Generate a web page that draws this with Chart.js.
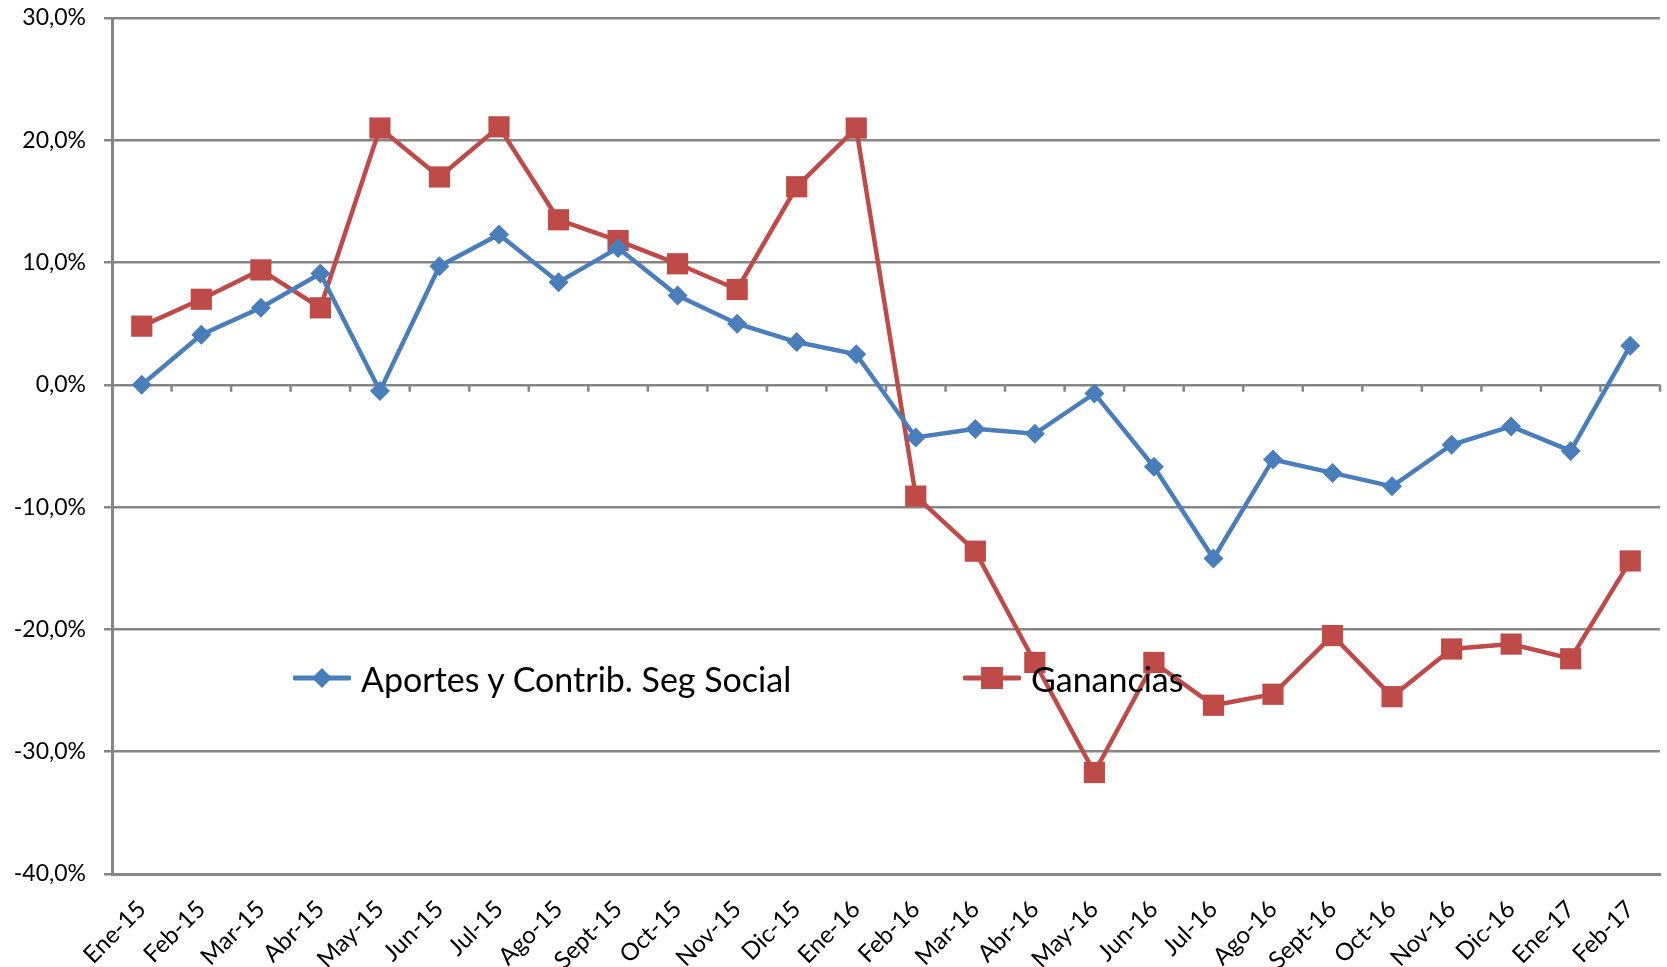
<!DOCTYPE html>
<html>
<head>
<meta charset="utf-8">
<script src="https://cdn.jsdelivr.net/npm/chart.js@4"></script>
<style>
  html, body { margin: 0; background: #fff; overflow: hidden; }
  #wrap { position: relative; width: 1667px; height: 967px; }
  canvas { display: block; }
  #leyenda { position: absolute; left: 0; top: 0; width: 1667px; height: 967px; pointer-events: none; font-family: Lato, "Open Sans", sans-serif; font-size: 34px; color: #000; }
  .item { position: absolute; top: 656px; display: flex; align-items: center; height: 44px; white-space: nowrap; }
  .item svg { margin-right: 10px; }
</style>
</head>
<body>
<div id="wrap">
  <canvas id="lineChart" width="1667" height="967"></canvas>
  <div id="leyenda"></div>
</div>
<script>
// meses
const meses = ["Ene-15", "Feb-15", "Mar-15", "Abr-15", "May-15", "Jun-15", "Jul-15", "Ago-15", "Sept-15", "Oct-15", "Nov-15", "Dic-15",
  "Ene-16", "Feb-16", "Mar-16", "Abr-16", "May-16", "Jun-16", "Jul-16", "Ago-16", "Sept-16", "Oct-16", "Nov-16", "Dic-16",
  "Ene-17", "Feb-17"];

const nombreAportes = "Aportes y Contrib. Seg Social";
const aportes = [0.0, 4.1, 6.3, 9.1, -0.5, 9.7, 12.3, 8.4, 11.2, 7.3, 5.0, 3.5,
  2.5, -4.3, -3.6, -4.0, -0.7, -6.7, -14.2, -6.1, -7.2, -8.3, -4.9, -3.4,
  -5.4, 3.2];

const nombreGanancias = "Ganancias";
const ganancias = [4.8, 7.0, 9.4, 6.3, 21.0, 17.0, 21.1, 13.5, 11.8, 9.9, 7.8, 16.2,
  21.0, -9.1, -13.6, -22.7, -31.7, -22.7, -26.2, -25.3, -20.5, -25.5, -21.6, -21.2,
  -22.4, -14.4];

const ticksY = [-40, -30, -20, -10, 0, 10, 20, 30];

const azul = '#4A7EBB';
const rojo = '#BE4B48';
const gris = '#868686';

// marcas del eje de categorias sobre la linea del 0%
const marcasCero = {
  id: 'marcasCero',
  beforeDatasetsDraw(chart) {
    const x = chart.scales.x, y = chart.scales.y;
    const ctx = chart.ctx;
    const y0 = y.getPixelForValue(0);
    const paso = x.width / meses.length;
    ctx.save();
    ctx.strokeStyle = gris;
    ctx.lineWidth = 2.5;
    ctx.beginPath();
    for (let i = 1; i <= meses.length; i++) {
      const px = x.left + i * paso;
      ctx.moveTo(px, y0);
      ctx.lineTo(px, y0 + 7);
    }
    ctx.stroke();
    ctx.restore();
  }
};

const ctx = document.getElementById('lineChart').getContext('2d');

const config = {
  type: 'line',
  data: {
    labels: meses,
    datasets: [{
      label: nombreAportes,
      data: aportes,
      borderColor: azul,
      backgroundColor: azul,
      borderWidth: 4.5,
      pointStyle: 'rectRot',
      pointRadius: 10,
      pointBorderWidth: 0,
      tension: 0
    }, {
      label: nombreGanancias,
      data: ganancias,
      borderColor: rojo,
      backgroundColor: rojo,
      borderWidth: 4.5,
      pointStyle: 'rect',
      pointRadius: 15,
      pointBorderWidth: 0,
      tension: 0
    }]
  },
  options: {
    responsive: false,
    animation: false,
    layout: { autoPadding: false, padding: { top: 18, right: 7, left: 0, bottom: 0 } },
    plugins: {
      legend: { display: false },
      tooltip: { enabled: false }
    },
    scales: {
      x: {
        offset: true,
        grid: { display: false, drawTicks: false },
        border: { display: true, color: gris, width: 3 },
        ticks: {
          autoSkip: false,
          maxRotation: 45,
          minRotation: 45,
          padding: 21,
          color: '#000',
          font: { family: 'Lato', size: 24 }
        },
        afterFit: s => { s.height = 93; s.paddingLeft = 0; s.paddingRight = 0; }
      },
      y: {
        min: -40,
        max: 30,
        afterBuildTicks: s => { s.ticks = ticksY.map(v => ({ value: v })); },
        grid: { color: gris, lineWidth: 2.5, tickLength: 8, tickColor: gris },
        border: { display: true, color: gris, width: 3 },
        ticks: {
          padding: 18,
          color: '#000',
          font: { family: 'Lato', size: 23 },
          callback: v => v.toFixed(1).replace('.', ',') + '%'
        },
        afterFit: s => { s.width = 112; s.paddingTop = 0; s.paddingBottom = 0; }
      }
    }
  },
  plugins: [marcasCero]
};

const grafico = new Chart(ctx, config);

// leyenda dentro del area del grafico
const leyenda = document.getElementById('leyenda');
const items = [
  { nombre: nombreAportes, color: azul, forma: 'rombo', left: 293 },
  { nombre: nombreGanancias, color: rojo, forma: 'cuadro', left: 963 }
];
items.forEach(it => {
  const marca = it.forma === 'rombo'
    ? `<polygon points="29,12 39,22 29,32 19,22" fill="${it.color}"/>`
    : `<rect x="18" y="11" width="22" height="22" fill="${it.color}"/>`;
  const div = document.createElement('div');
  div.className = 'item';
  div.style.left = it.left + 'px';
  div.innerHTML = `<svg width="58" height="44"><line x1="2" y1="22" x2="56" y2="22" stroke="${it.color}" stroke-width="5" stroke-linecap="round"/>${marca}</svg><span>${it.nombre}</span>`;
  leyenda.appendChild(div);
});
</script>
</body>
</html>
